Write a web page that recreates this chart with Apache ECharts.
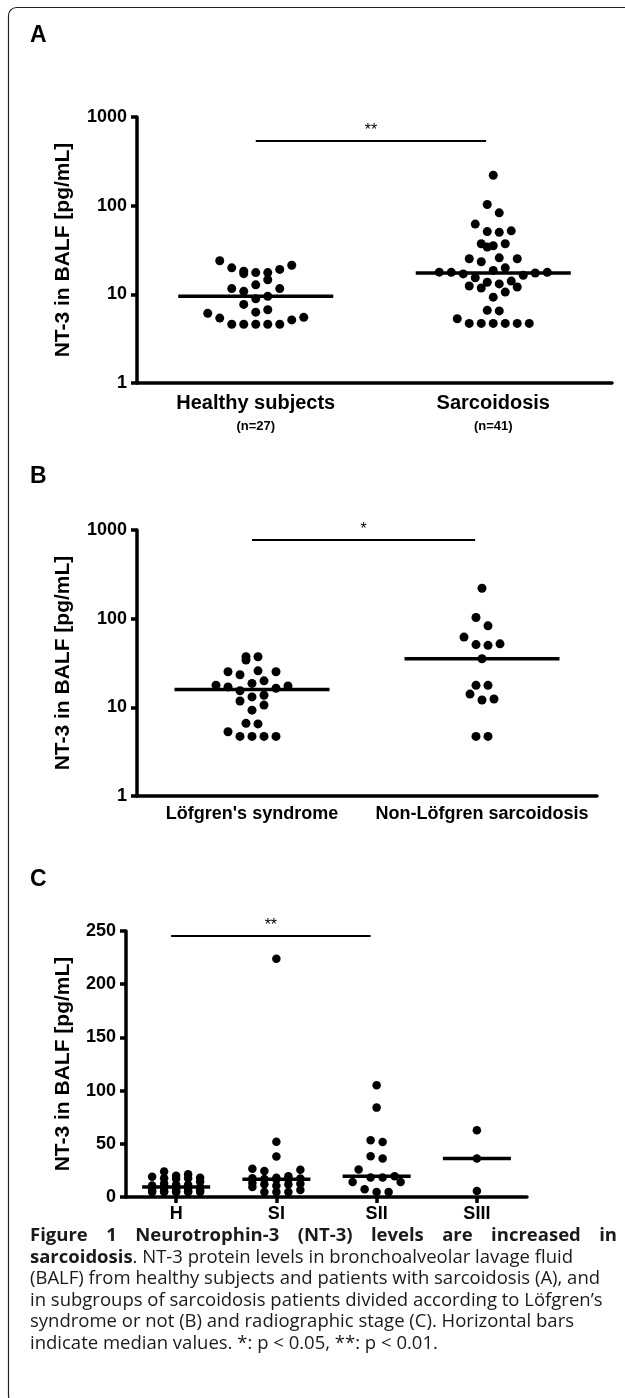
<!DOCTYPE html>
<html>
<head>
<meta charset="utf-8">
<script src="https://cdn.jsdelivr.net/npm/echarts@6/dist/echarts.min.js"></script>
<style>
html, body { margin: 0; padding: 0; background: #fff; }
#chart { width: 625px; height: 1398px; }
</style>
</head>
<body>
<div id="chart"></div>
<script>
// values (pg/mL)
var healthy = [23.9, 21.3, 19.9, 19.1, 18.2, 17.6, 17.6, 17.1, 14.6, 12.8, 11.6, 11.6, 10.8, 9.5,
    8.9, 7.7, 6.7, 6.3, 6.1, 5.5, 5.4, 5.15, 4.6, 4.6, 4.6, 4.6, 4.6];
var lofgren = [37.2, 37.2, 34.1, 25.8, 25.2, 25.2, 23.3, 19.9, 18.6, 17.8, 17.4, 17.0, 16.4, 15.4,
    13.7, 13.1, 11.8, 10.6, 9.3, 6.6, 6.5, 5.3, 4.7, 4.7, 4.7, 4.7];
var nonLofgren = [220, 103, 83, 62, 52, 51, 50, 35.3, 17.7, 17.7, 14.1, 12.4, 12.1, 4.7, 4.7];
var sarcoidosis = lofgren.concat(nonLofgren);
var stageI = [224, 52, 38, 26.5, 25.5, 24.5, 19.5, 18, 17.7, 17.4, 17, 16.7, 16.4, 13.1, 12.4,
    12.1, 11.8, 10.6, 9.3, 6.5, 4.7, 4.7, 4.7];
var stageII = [105, 84, 53.4, 51.8, 38.3, 36.1, 25.8, 19.5, 18.3, 18.3, 14.1, 14.1, 7.2, 4.7, 4.7];
var stageIII = [62.8, 36.1, 5.7];

var namesA = ['Healthy subjects', 'Sarcoidosis'];
var namesB = ["Löfgren's syndrome", 'Non-Löfgren sarcoidosis'];
var namesC = ['H', 'SI', 'SII', 'SIII'];
var groupsA = [healthy, sarcoidosis];
var groupsB = [lofgren, nonLofgren];
var groupsC = [healthy, stageI, stageII, stageIII];

var FONT = '"Liberation Sans", Arial, Helvetica, sans-serif';
var CAP_FONT = '"Open Sans", "DejaVu Sans", sans-serif';
var STEP = 12;

var chart = echarts.init(document.getElementById('chart'));

function median(arr) {
    var s = arr.slice().sort(function (a, b) { return a - b; });
    var m = s.length >> 1;
    return s.length % 2 ? s[m] : (s[m - 1] + s[m]) / 2;
}

// order in which a row of k dots fills the slots: centre first, then outwards
function slotOrder(k) {
    var out = [];
    if (k % 2) {
        out.push(0);
        for (var i = 1; out.length < k; i++) {
            out.push(i);
            if (out.length < k) out.push(-i);
        }
    } else {
        for (var j = 0.5; out.length < k; j++) {
            out.push(j);
            out.push(-j);
        }
    }
    return out;
}

// column scatter like Prism: points within one dot height share a row, spread sideways
function swarm(vals, toPix, maxSlots) {
    var idx = vals.map(function (v, i) { return i; })
        .sort(function (a, b) { return vals[a] - vals[b]; });
    var off = [];
    var i = 0;
    while (i < idx.length) {
        var y0 = toPix(vals[idx[i]]);
        var band = [idx[i]];
        var j = i + 1;
        while (j < idx.length && y0 - toPix(vals[idx[j]]) < STEP) {
            band.push(idx[j]);
            j++;
        }
        var order = slotOrder(Math.min(band.length, maxSlots));
        band.forEach(function (p, t) { off[p] = order[t % order.length] * STEP; });
        i = j;
    }
    return off;
}

function yName(gap) {
    return {
        name: 'NT-3 in BALF [pg/mL]',
        nameLocation: 'middle',
        nameRotate: 90,
        nameGap: gap,
        nameTextStyle: { fontFamily: FONT, fontWeight: 'bold', fontSize: 21, color: '#000' }
    };
}

function axisCommon() {
    return {
        axisLine: { show: true, onZero: false, lineStyle: { color: '#000', width: 3.5 } },
        axisTick: { show: true, length: 6, lineStyle: { color: '#000', width: 3.5 } },
        axisLabel: { fontFamily: FONT, fontWeight: 'bold', fontSize: 18, color: '#000', margin: 10 },
        splitLine: { show: false },
        minorTick: { show: false }
    };
}

function logAxis(gridIndex) {
    var a = Object.assign(axisCommon(), yName(63), {
        type: 'log', logBase: 10, min: 1, max: 1000, gridIndex: gridIndex
    });
    a.axisLabel.formatter = function (v) { return String(Math.round(v)); };
    return a;
}

function linAxis(gridIndex) {
    return Object.assign(axisCommon(), yName(52), {
        type: 'value', min: 0, max: 250, interval: 50, gridIndex: gridIndex
    });
}

function catAxis(gridIndex, names, label, ticks) {
    var a = axisCommon();
    a.type = 'category';
    a.gridIndex = gridIndex;
    a.data = names;
    a.boundaryGap = true;
    a.axisTick = ticks ? { show: true, alignWithLabel: true, length: 6, lineStyle: { color: '#000', width: 3.5 } }
        : { show: false };
    Object.assign(a.axisLabel, { interval: 0, hideOverlap: false }, label);
    return a;
}

function valAxis(gridIndex, n) {
    return { type: 'value', gridIndex: gridIndex, min: -0.5, max: n - 0.5, show: false,
        axisLine: { onZero: false }, splitLine: { show: false } };
}

var option = {
    animation: false,
    backgroundColor: '#fff',
    grid: [
        { left: 137, top: 117, width: 475, height: 266, outerBoundsMode: 'none' },
        { left: 137, top: 530, width: 460, height: 266, outerBoundsMode: 'none' },
        { left: 126, top: 931, width: 401, height: 266, outerBoundsMode: 'none' }
    ],
    xAxis: [
        catAxis(0, namesA, {
            fontSize: 20, lineHeight: 24, margin: 8,
            formatter: function (name, i) { return name + '\n{n|(n=' + groupsA[i].length + ')}'; },
            rich: { n: { fontFamily: FONT, fontWeight: 'bold', fontSize: 13, lineHeight: 22, color: '#000' } }
        }, false),
        valAxis(0, 2),
        catAxis(1, namesB, { fontSize: 18, lineHeight: 22, margin: 7 }, false),
        valAxis(1, 2),
        catAxis(2, namesC, { fontSize: 18, lineHeight: 22, margin: 6 }, true),
        valAxis(2, 4)
    ],
    yAxis: [logAxis(0), logAxis(1), linAxis(2)],
    series: []
};

chart.setOption(option);

function dots(vals, cat, xIdx, yIdx, maxSlots, size) {
    var toPix = function (v) { return chart.convertToPixel({ yAxisIndex: yIdx }, v); };
    var unit = chart.convertToPixel({ xAxisIndex: xIdx }, 1) - chart.convertToPixel({ xAxisIndex: xIdx }, 0);
    var off = swarm(vals, toPix, maxSlots);
    return {
        type: 'scatter', xAxisIndex: xIdx, yAxisIndex: yIdx, silent: true,
        symbol: 'circle', symbolSize: size, itemStyle: { color: '#000', opacity: 1 },
        data: vals.map(function (v, i) { return [cat + off[i] / unit, v]; })
    };
}

function medians(groups, xIdx, yIdx, width, sig) {
    return {
        type: 'scatter', xAxisIndex: xIdx, yAxisIndex: yIdx, silent: true, z: 3,
        symbol: 'rect', symbolSize: [width, 3.5], itemStyle: { color: '#000', opacity: 1 },
        data: groups.map(function (g, c) { return [c, median(g)]; }),
        markLine: {
            silent: true, symbol: 'none',
            lineStyle: { color: '#000', width: 2, type: 'solid', opacity: 1 },
            label: { show: true, position: 'middle', formatter: sig.text, distance: 2,
                fontFamily: FONT, fontSize: 16, color: '#000' },
            data: [[{ coord: [sig.from, sig.level] }, { coord: [sig.to, sig.level] }]]
        }
    };
}

var series = [];
groupsA.forEach(function (g, c) { series.push(dots(g, c, 1, 0, 11, 9)); });
groupsB.forEach(function (g, c) { series.push(dots(g, c, 3, 1, 11, 9)); });
groupsC.forEach(function (g, c) { series.push(dots(g, c, 5, 2, 5, 8.5)); });
series.push(medians(groupsA, 1, 0, 155, { text: '**', from: 0, to: 0.97, level: 536 }));
series.push(medians(groupsB, 3, 1, 155, { text: '*', from: 0, to: 0.97, level: 785 }));
series.push(medians(groupsC, 5, 2, 68, { text: '**', from: -0.05, to: 1.94, level: 246 }));

// caption
var ctx = document.createElement('canvas').getContext('2d');
var capBold = 'bold 18.5px ' + CAP_FONT;
var capNorm = '18.5px ' + CAP_FONT;
var capLeft = 30, capRight = 617;
var firstLine = 'Figure 1 Neurotrophin-3 (NT-3) levels are increased in'.split(' ');
var capLines = [
    '{b|sarcoidosis}. NT-3 protein levels in bronchoalveolar lavage fluid',
    '(BALF) from healthy subjects and patients with sarcoidosis (A), and',
    'in subgroups of sarcoidosis patients divided according to Löfgren’s',
    'syndrome or not (B) and radiographic stage (C). Horizontal bars',
    'indicate median values. *: p < 0.05, **: p < 0.01.'
];
var capY = [1236, 1257.5, 1279, 1300.5, 1322, 1343.5];

var graphic = [
    { type: 'rect', silent: true, shape: { x: 8.5, y: 7.5, width: 800, height: 1396, r: [8, 0, 0, 8] },
        style: { fill: null, stroke: '#222', lineWidth: 1.2 } },
    { type: 'text', x: 30, y: 36, style: { text: 'A', font: 'bold 23px ' + FONT, fill: '#000', verticalAlign: 'middle' } },
    { type: 'text', x: 30, y: 477, style: { text: 'B', font: 'bold 23px ' + FONT, fill: '#000', verticalAlign: 'middle' } },
    { type: 'text', x: 30, y: 880, style: { text: 'C', font: 'bold 23px ' + FONT, fill: '#000', verticalAlign: 'middle' } }
];

ctx.font = capBold;
var wordW = firstLine.map(function (w) { return ctx.measureText(w).width; });
var gap = (capRight - capLeft - wordW.reduce(function (a, b) { return a + b; }, 0)) / (firstLine.length - 1);
var wx = capLeft;
firstLine.forEach(function (w, i) {
    graphic.push({ type: 'text', x: wx, y: capY[0],
        style: { text: w, font: capBold, fill: '#1a1a1a', verticalAlign: 'middle' } });
    wx += wordW[i] + gap;
});
capLines.forEach(function (t, i) {
    graphic.push({ type: 'text', x: capLeft, y: capY[i + 1],
        style: { text: t, font: capNorm, fill: '#1a1a1a', verticalAlign: 'middle',
            rich: { b: { font: capBold, fill: '#1a1a1a' } } } });
});

chart.setOption({ series: series, graphic: graphic });
</script>
</body>
</html>
